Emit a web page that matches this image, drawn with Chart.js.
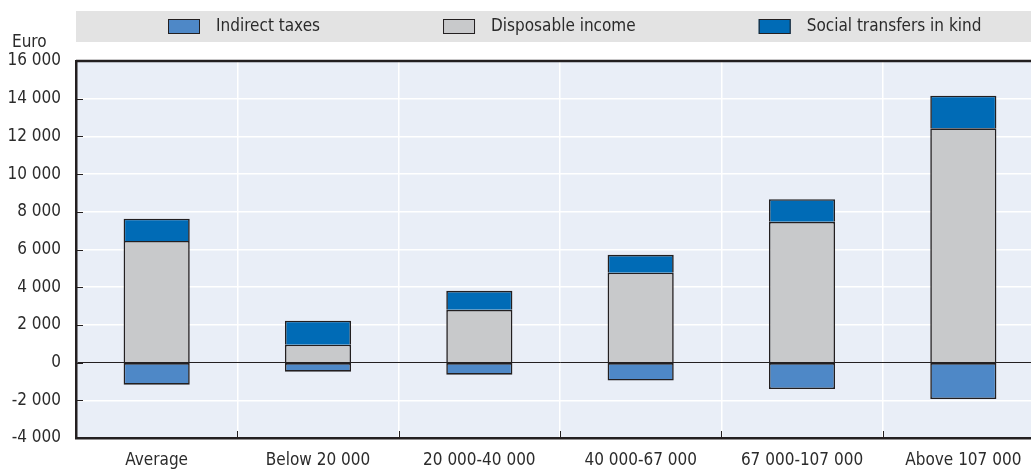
<!DOCTYPE html>
<html>
<head>
<meta charset="utf-8">
<script src="https://cdn.jsdelivr.net/npm/chart.js@4.4.0/dist/chart.umd.js"></script>
<style>
  html, body { margin: 0; padding: 0; background: #fff; overflow: hidden; }
  #wrap { position: relative; width: 1044px; height: 471px; }
</style>
</head>
<body>
<div id="wrap"><canvas id="chart"></canvas></div>
<script>
const categories = ['Average', 'Below 20 000', '20 000-40 000', '40 000-67 000', '67 000-107 000', 'Above 107 000'];
const indirectTaxes = [-1170, -480, -640, -950, -1400, -1930];
const disposableIncome = [6450, 950, 2800, 4770, 7470, 12430];
const socialTransfers = [1180, 1270, 1010, 950, 1200, 1730];
const yTicks = [-4000, -2000, 0, 2000, 4000, 6000, 8000, 10000, 12000, 14000, 16000];

const FONT = "'Liberation Sans Narrow', 'DejaVu Sans Condensed', 'Arial Narrow', sans-serif";
const INK = '#231f20';
const TEXT = '#2b2b2b';

function fmt(v) {
  const s = String(Math.abs(v)).replace(/\B(?=(\d{3})+(?!\d))/g, ' ');
  return (v < 0 ? '-' : '') + s;
}

// background of the plot, legend band, "Euro" label, frame bits
const backdrop = {
  id: 'backdrop',
  beforeDraw(chart) {
    const { ctx, chartArea: a } = chart;
    ctx.save();
    ctx.fillStyle = '#e9eef7';
    ctx.fillRect(a.left, a.top, a.right - a.left, a.bottom - a.top);

    // legend band
    ctx.fillStyle = '#e3e3e3';
    ctx.fillRect(a.left, 11, chart.width - a.left, 31);
    ctx.font = '17px ' + FONT;
    ctx.textBaseline = 'middle';
    let x = 168;
    for (const ds of chart.data.datasets) {
      ctx.fillStyle = ds.backgroundColor;
      ctx.fillRect(x, 19, 32, 15);
      ctx.strokeStyle = INK;
      ctx.lineWidth = 1;
      ctx.strokeRect(x + 0.5, 19.5, 31, 14);
      ctx.fillStyle = TEXT;
      ctx.fillText(ds.label, x + 48, 27);
      x += 48 + ctx.measureText(ds.label).width + 123;
    }

    ctx.fillText('Euro', 12, 43);
    ctx.restore();
  },
  afterDraw(chart) {
    const { ctx, chartArea: a } = chart;
    const y = chart.scales.y, xs = chart.scales.x;
    ctx.save();
    ctx.strokeStyle = INK;
    ctx.lineWidth = 2.5;
    ctx.beginPath();
    ctx.moveTo(a.left, a.top);
    ctx.lineTo(a.right, a.top);
    ctx.stroke();
    ctx.lineWidth = 1;
    ctx.beginPath();
    for (const t of yTicks) {
      if (t === 16000 || t === -4000) continue;
      const py = Math.round(y.getPixelForValue(t)) + 0.5;
      ctx.moveTo(a.left, py);
      ctx.lineTo(a.left + 7, py);
    }
    for (let i = 1; i < categories.length; i++) {
      const px = Math.round(xs.getPixelForValue(i - 0.5)) + 0.5;
      ctx.moveTo(px, a.bottom);
      ctx.lineTo(px, a.bottom - 7);
    }
    ctx.stroke();
    ctx.restore();
  }
};

const barStyle = { borderColor: INK, borderWidth: 1.6, barPercentage: 0.41, categoryPercentage: 1 };

new Chart(document.getElementById('chart'), {
  type: 'bar',
  data: {
    labels: categories,
    datasets: [
      Object.assign({ label: 'Indirect taxes', data: indirectTaxes, backgroundColor: '#4e88c7', borderSkipped: false }, barStyle),
      Object.assign({ label: 'Disposable income', data: disposableIncome, backgroundColor: '#c8c9cb', borderSkipped: 'start' }, barStyle),
      Object.assign({ label: 'Social transfers in kind', data: socialTransfers, backgroundColor: '#006bb6', borderSkipped: 'start' }, barStyle)
    ]
  },
  options: {
    responsive: true,
    maintainAspectRatio: false,
    animation: false,
    devicePixelRatio: 1,
    layout: { padding: { top: 61, right: 0, bottom: 0, left: 0 } },
    plugins: { legend: { display: false }, tooltip: { enabled: false } },
    scales: {
      x: {
        stacked: true,
        afterFit(s) { s.height = 33; },
        grid: { offset: true, color: '#ffffff', lineWidth: 1.5, drawTicks: false },
        border: { color: INK, width: 2.5 },
        ticks: { color: TEXT, font: { family: FONT, size: 17 }, padding: 12, maxRotation: 0 }
      },
      y: {
        stacked: true,
        min: -4000, max: 16000,
        afterBuildTicks(s) { s.ticks = yTicks.map(v => ({ value: v })); },
        afterFit(s) { s.width = 76; },
        grid: {
          color: c => (c.tick && c.tick.value === 0 ? INK : '#ffffff'),
          lineWidth: c => (c.tick && c.tick.value === 0 ? 1 : 1.5),
          drawTicks: false
        },
        border: { color: INK, width: 2.5 },
        ticks: { color: TEXT, font: { family: FONT, size: 17 }, padding: 15, callback: v => fmt(v) }
      }
    }
  },
  plugins: [backdrop]
});
</script>
</body>
</html>
